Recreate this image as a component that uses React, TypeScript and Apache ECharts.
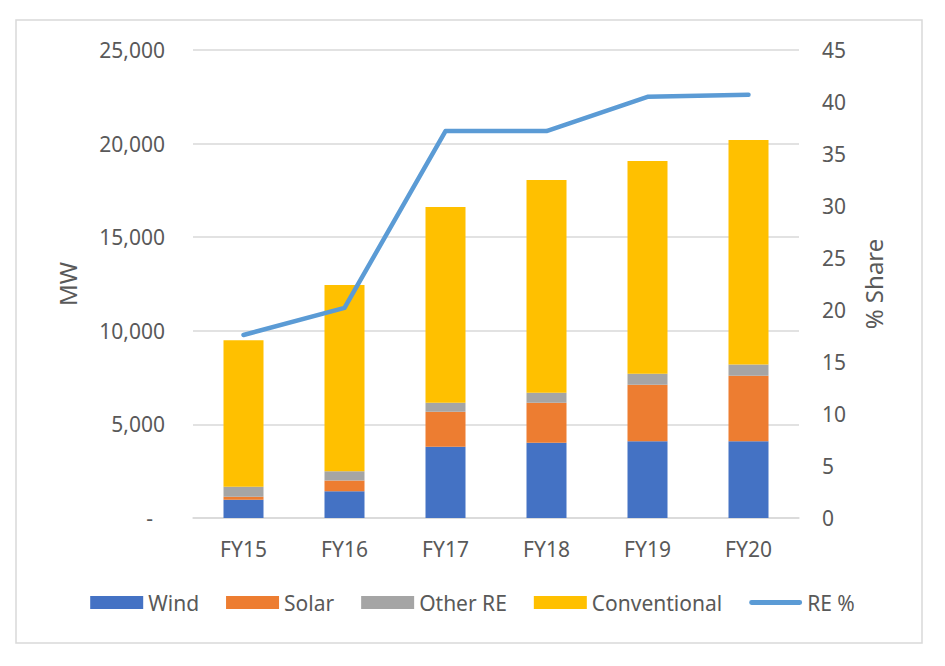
import React, { useEffect, useRef } from "react";
import * as echarts from "echarts";

const categories = ["FY15", "FY16", "FY17", "FY18", "FY19", "FY20"];
const wind = [980, 1430, 3810, 4025, 4095, 4095];
const solar = [160, 570, 1870, 2135, 3025, 3510];
const otherRE = [530, 500, 480, 535, 590, 590];
const conventional = [7830, 9950, 10450, 11360, 11360, 12000];
const rePercent = [17.6, 20.2, 37.2, 37.2, 40.5, 40.7];

const FONT = "Noto Sans";
const TXT = "#595959";
const GRID = "#d9d9d9";
const LINE_ICON = "path://M2.5,0 H52.5 A2.5,2.5 0 0 1 52.5,5 H2.5 A2.5,2.5 0 0 1 2.5,0 Z";

export default function App() {
  const ref = useRef<HTMLDivElement>(null);
  useEffect(() => {
    if (!ref.current) return;
    const chart = echarts.init(ref.current, null, { renderer: "svg" });
    const bar = (name: string, data: number[], color: string) => ({
      name,
      type: "bar",
      stack: "mw",
      data,
      barWidth: 40,
      itemStyle: { color },
      emphasis: { disabled: true },
    });
    chart.setOption({
      animation: false,
      textStyle: { fontFamily: FONT, color: TXT },
      graphic: [
        {
          type: "rect",
          shape: { x: 16, y: 20, width: 906, height: 623 },
          style: { fill: "none", stroke: GRID, lineWidth: 1.5 },
          silent: true,
        },
      ],
      grid: { left: 193, right: 146, top: 50, bottom: 148, containLabel: false },
      legend: {
        left: "center",
        top: 587,
        itemWidth: 53,
        itemHeight: 13,
        itemGap: 27,
        textStyle: { fontFamily: FONT, fontSize: 21, color: TXT },
        data: [
          { name: "Wind", icon: "rect" },
          { name: "Solar", icon: "rect" },
          { name: "Other RE", icon: "rect" },
          { name: "Conventional", icon: "rect" },
          { name: "RE %", icon: LINE_ICON, itemStyle: { color: "#5b9bd5" } },
        ],
      },
      xAxis: {
        type: "category",
        data: categories,
        axisLine: { lineStyle: { color: GRID, width: 1.5 } },
        axisTick: { show: false },
        axisLabel: { fontFamily: FONT, fontSize: 21, color: TXT, margin: 20 },
      },
      yAxis: [
        {
          type: "value",
          min: 0,
          max: 25000,
          interval: 5000,
          name: "MW",
          nameLocation: "middle",
          nameRotate: 90,
          nameGap: 114,
          nameTextStyle: { fontFamily: FONT, fontSize: 24, color: TXT },
          axisLine: { show: false },
          axisTick: { show: false },
          splitLine: { lineStyle: { color: GRID, width: 1.5 } },
          axisLabel: {
            fontFamily: FONT,
            fontSize: 21,
            color: TXT,
            margin: 28,
            formatter: (v: number) =>
              v === 0 ? "{d|-}" : v.toLocaleString("en-US"),
            rich: { d: { fontFamily: FONT, fontSize: 21, color: TXT, padding: [0, 12, 0, 0] } },
          },
        },
        {
          type: "value",
          min: 0,
          max: 45,
          interval: 5,
          position: "right",
          name: "% Share",
          nameLocation: "middle",
          nameRotate: 90,
          nameGap: 62,
          nameTextStyle: { fontFamily: FONT, fontSize: 24, color: TXT },
          axisLine: { show: false },
          axisTick: { show: false },
          splitLine: { show: false },
          axisLabel: { fontFamily: FONT, fontSize: 21, color: TXT, margin: 23 },
        },
      ],
      series: [
        bar("Wind", wind, "#4472c4"),
        bar("Solar", solar, "#ed7d31"),
        bar("Other RE", otherRE, "#a5a5a5"),
        bar("Conventional", conventional, "#ffc000"),
        {
          name: "RE %",
          type: "line",
          yAxisIndex: 1,
          data: rePercent,
          symbol: "none",
          itemStyle: { color: "#5b9bd5" },
          lineStyle: { color: "#5b9bd5", width: 4.5, cap: "round", join: "round" },
          emphasis: { disabled: true },
          z: 5,
        },
      ],
    });
    return () => chart.dispose();
  }, []);
  return (
    <div
      ref={ref}
      style={{ position: "absolute", left: 0, top: 0, width: 945, height: 666, background: "#fff" }}
    />
  );
}
